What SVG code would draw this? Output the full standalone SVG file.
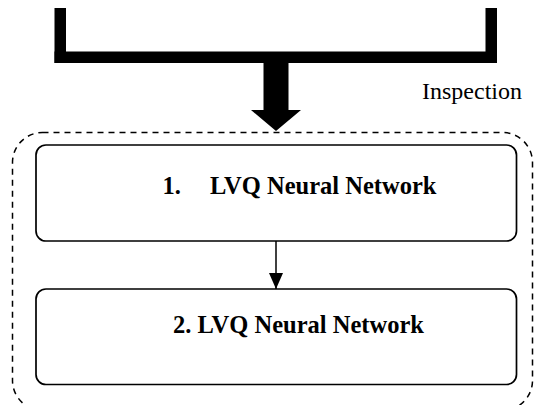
<svg xmlns="http://www.w3.org/2000/svg" width="535" height="405" viewBox="0 0 535 405">
  <style>
    .box { fill: #ffffff; stroke: #000000; stroke-width: 1.7; }
    .frame { fill: none; stroke: #000000; stroke-width: 1.5; stroke-dasharray: 6 5; }
    .label { font-family: "Liberation Serif", "Times New Roman", serif; font-size: 24px; fill: #000000; }
    .bold { font-weight: bold; font-size: 24.5px; }
    .link { stroke: #000000; stroke-width: 1.5; fill: none; }
  </style>
  <defs>
    <marker id="head" markerUnits="userSpaceOnUse" markerWidth="16" markerHeight="14" refX="16" refY="7" orient="auto" viewBox="0 0 16 14">
      <path d="M0,0 L16,7 L0,14 Z" fill="#000000"/>
    </marker>
  </defs>

  <!-- merging bracket with thick downward arrow -->
  <g id="merge-arrow" fill="#000000">
    <rect x="54.5" y="8" width="11.5" height="55"/>
    <rect x="485.5" y="8" width="11.5" height="55"/>
    <rect x="54.5" y="51.5" width="442.5" height="11.5"/>
    <rect x="263.5" y="62" width="25" height="49"/>
    <path d="M251,110 L301,110 L276,131 Z"/>
  </g>

  <g id="inspection-label">
    <text class="label" x="422" y="99">Inspection</text>
  </g>

  <!-- dashed inspection stage -->
  <g id="inspection-stage">
    <rect class="frame" x="12.5" y="132.5" width="520" height="278" rx="30" ry="30"/>
  </g>

  <g id="lvq1">
    <rect class="box" x="36" y="145" width="480.5" height="96" rx="10" ry="10"/>
    <text class="label bold" x="162.5" y="194">1.</text>
    <text class="label bold" x="210" y="194">LVQ Neural Network</text>
  </g>

  <g id="lvq2">
    <rect class="box" x="36" y="289" width="480.5" height="95.5" rx="10" ry="10"/>
    <text class="label bold" x="173" y="332.5">2. LVQ Neural Network</text>
  </g>

  <g id="connectors">
    <line class="link" x1="276" y1="241" x2="276" y2="289" marker-end="url(#head)"/>
  </g>
</svg>
